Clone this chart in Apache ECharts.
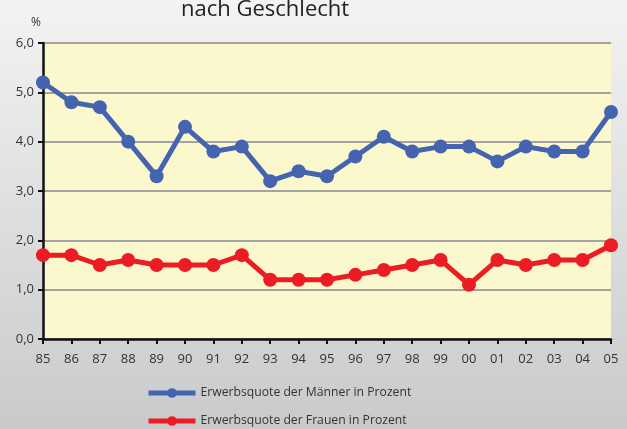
<!DOCTYPE html>
<html>
<head>
<meta charset="utf-8">
<script src="https://cdn.jsdelivr.net/npm/echarts@6/dist/echarts.min.js"></script>
<style>
html, body { margin: 0; padding: 0; }
#chart {
  width: 627px;
  height: 429px;
  background: linear-gradient(#f3f3f3, #c9cacc);
}
</style>
</head>
<body>
<div id="chart"></div>
<script>
var years = ["85", "86", "87", "88", "89", "90", "91", "92", "93", "94", "95",
  "96", "97", "98", "99", "00", "01", "02", "03", "04", "05"];
var maenner = [5.2, 4.8, 4.7, 4.0, 3.3, 4.3, 3.8, 3.9, 3.2, 3.4, 3.3,
  3.7, 4.1, 3.8, 3.9, 3.9, 3.6, 3.9, 3.8, 3.8, 4.6];
var frauen = [1.7, 1.7, 1.5, 1.6, 1.5, 1.5, 1.5, 1.7, 1.2, 1.2, 1.2,
  1.3, 1.4, 1.5, 1.6, 1.1, 1.6, 1.5, 1.6, 1.6, 1.9];
var names = ["Erwerbsquote der Männer in Prozent", "Erwerbsquote der Frauen in Prozent"];

var font = "Open Sans";
var legendText = { fontFamily: font, fontSize: 12.2, color: "#333" };
var myChart = echarts.init(document.getElementById("chart"));
myChart.setOption({
  textStyle: { fontFamily: font },
  title: {
    text: "nach Geschlecht",
    left: 176,
    top: -6,
    textStyle: { fontFamily: font, fontSize: 22, fontWeight: "normal", color: "#222" }
  },
  grid: {
    left: 43,
    right: 16,
    top: 43,
    bottom: 90
  },
  // two legends, one item each, stacked
  legend: [
    {
      left: 146, top: 387, padding: 0,
      itemWidth: 47, itemHeight: 12, itemGap: 6,
      lineStyle: { width: 5 },
      textStyle: legendText,
      data: [names[0]]
    },
    {
      left: 146, top: 415, padding: 0,
      itemWidth: 47, itemHeight: 12, itemGap: 6,
      lineStyle: { width: 5 },
      textStyle: legendText,
      data: [names[1]]
    }
  ],
  xAxis: {
    type: "category",
    data: years,
    boundaryGap: false,
    axisLine: { lineStyle: { color: "#111", width: 2.5 } },
    axisTick: { length: 5, lineStyle: { color: "#111", width: 2 } },
    axisLabel: { color: "#333", fontSize: 13, margin: 14, interval: 0 },
    splitLine: { show: false }
  },
  yAxis: {
    type: "value",
    min: 0,
    max: 6,
    interval: 1,
    name: "%",
    nameGap: 14,
    nameTextStyle: { color: "#333", fontSize: 12, align: "right", padding: [0, 2, 0, 0] },
    axisLine: { show: true, lineStyle: { color: "#111", width: 2.5 } },
    axisTick: { show: true, length: 5, lineStyle: { color: "#111", width: 2 } },
    axisLabel: {
      color: "#333",
      fontSize: 13,
      margin: 9,
      formatter: function (v) { return v.toFixed(1).replace(".", ","); }
    },
    splitLine: { lineStyle: { color: "#a3a3a3", width: 2 } },
    splitArea: { show: true, areaStyle: { color: ["#fbf8cd", "#fbf8cd"] } }
  },
  series: [
    {
      name: names[0],
      type: "line",
      data: maenner,
      symbol: "circle",
      symbolSize: 14,
      color: "#4464b0",
      lineStyle: { width: 5 },
      z: 3
    },
    {
      name: names[1],
      type: "line",
      data: frauen,
      symbol: "circle",
      symbolSize: 14,
      color: "#ec1c24",
      lineStyle: { width: 5 },
      z: 3
    }
  ]
});
</script>
</body>
</html>
